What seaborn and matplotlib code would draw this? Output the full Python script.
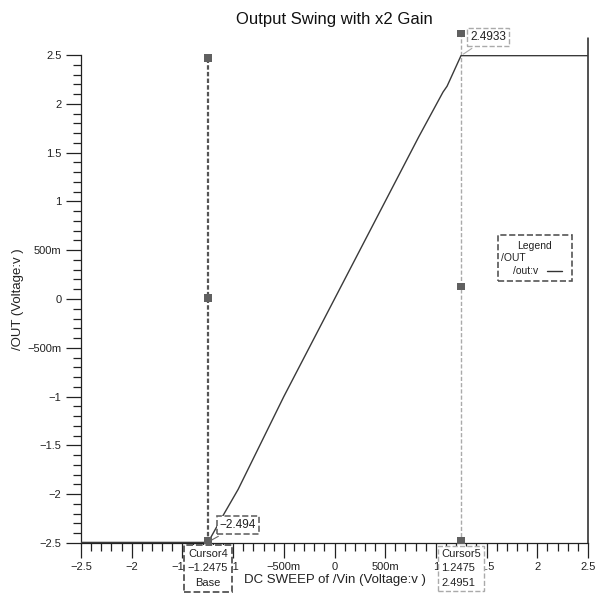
import numpy as np
import pandas as pd
import matplotlib
matplotlib.use("Agg")
import matplotlib.pyplot as plt
import seaborn as sns
from matplotlib.ticker import FixedLocator, MultipleLocator

# ---- data ----
vin = [-2.5, -1.2475, -1.1, -0.95, -0.5, 0.0, 0.5, 0.83, 1.07, 1.11, 1.2475, 2.5]
vout = [-2.494, -2.494, -2.22, -1.95, -1.0, 0.0, 1.0, 1.66, 2.12, 2.18, 2.4933, 2.4933]

cursor4_x = -1.2475
cursor4_marks = [2.47, 0.01, -2.475]
cursor5_x = 1.2475
cursor5_marks = [2.72, 0.13, -2.475]

tick_vals = [-2.5, -2, -1.5, -1, -0.5, 0, 0.5, 1, 1.5, 2, 2.5]
tick_labels = ["\u22122.5", "\u22122", "\u22121.5", "\u22121", "\u2212500m", "0", "500m", "1", "1.5", "2", "2.5"]

title = "Output Swing with x2 Gain"
xlabel = "DC SWEEP of /Vin (Voltage:v )"
ylabel = "/OUT (Voltage:v )"

sns.set_style("ticks")
plt.rcParams['font.family'] = ['Liberation Sans', 'DejaVu Sans']

fig = plt.figure(figsize=(6.03, 5.95), dpi=100)
L, R, B, T = 81 / 603, 588 / 603, (595 - 543) / 595, (595 - 55) / 595
ax = fig.add_axes([L, B, R - L, T - B])

df = pd.DataFrame({"vin": vin, "vout": vout})
sns.lineplot(data=df, x="vin", y="vout", ax=ax, color="#3a3a3a", lw=1.0, zorder=3)

# cursors
ax.plot([cursor4_x, cursor4_x], [-2.5, cursor4_marks[0]], color="#555555", lw=1.6,
        ls=(0, (2, 1)), zorder=2)
ax.plot([cursor5_x, cursor5_x], [-2.5, cursor5_marks[0]], color="#aaaaaa", lw=1.0,
        ls=(0, (3, 1.5)), zorder=2, clip_on=False)
c4 = pd.DataFrame({"x": [cursor4_x] * 3, "y": cursor4_marks})
c5 = pd.DataFrame({"x": [cursor5_x] * 3, "y": cursor5_marks})
for d in (c4, c5):
    sns.scatterplot(data=d, x="x", y="y", ax=ax, marker="s", s=28, color="#606060",
                    edgecolor="none", zorder=4, clip_on=False)

ax.set_xlim(-2.5, 2.5)
ax.set_ylim(-2.5, 2.5)
ax.xaxis.set_major_locator(FixedLocator(tick_vals))
ax.set_xticklabels(tick_labels)
ax.yaxis.set_major_locator(FixedLocator(tick_vals))
ax.set_yticklabels(tick_labels)
ax.xaxis.set_minor_locator(MultipleLocator(0.1))
ax.yaxis.set_minor_locator(MultipleLocator(0.1))
ax.tick_params(axis="both", which="major", length=11, width=0.9, color="#222222",
               labelsize=8, labelcolor="#222222", pad=3)
ax.tick_params(axis="both", which="minor", length=6, width=0.9, color="#222222")

for s in ("top", "right"):
    ax.spines[s].set_visible(False)
for s in ("left", "bottom"):
    ax.spines[s].set_color("#222222")
    ax.spines[s].set_linewidth(0.9)
ax.plot([1, 1], [0, 1.035], transform=ax.transAxes, color="#222222", lw=1.1, clip_on=False)

ax.set_title(title, fontsize=12, color="#111111", pad=22)
ax.set_xlabel(xlabel, fontsize=9.5, color="#222222")
ax.xaxis.set_label_coords(0.5, -0.064)
ax.set_ylabel(ylabel, fontsize=9.5, color="#222222")
ax.yaxis.set_label_coords(-0.112, 0.5)

# annotations
box_kw = dict(boxstyle="square,pad=0.25", fc="white", ec="#666666", ls="--", lw=1.2)
ax.annotate("\u22122.494", xy=(cursor4_x, -2.49), xytext=(-1.13, -2.32), fontsize=8.5,
            color="#222222", va="center", ha="left", bbox=box_kw,
            arrowprops=dict(arrowstyle="-", color="#666666", lw=0.8), zorder=5)
box_kw2 = dict(boxstyle="square,pad=0.25", fc="white", ec="#aaaaaa", ls="--", lw=1.0)
ax.annotate("2.4933", xy=(cursor5_x, 2.4933), xytext=(1.34, 2.68), fontsize=8.5,
            color="#222222", va="center", ha="left", bbox=box_kw2,
            arrowprops=dict(arrowstyle="-", color="#aaaaaa", lw=0.8),
            annotation_clip=False, zorder=5)

# cursor boxes below axis
ax.text(cursor4_x, -0.012, "Cursor4\n\u22121.2475\nBase", transform=ax.get_xaxis_transform(),
        ha="center", va="top", fontsize=8, color="#222222", linespacing=1.55,
        bbox=dict(boxstyle="square,pad=0.35", fc="white", ec="#555555", ls="--", lw=1.3),
        clip_on=False, zorder=6)
ax.text(cursor5_x, -0.012, "Cursor5\n1.2475\n2.4951", transform=ax.get_xaxis_transform(),
        ha="center", va="top", fontsize=8, color="#222222", linespacing=1.55,
        multialignment="left",
        bbox=dict(boxstyle="square,pad=0.3", fc="white", ec="#aaaaaa", ls="--", lw=1.0),
        clip_on=False, zorder=6)

# legend box
lx0, lx1 = (498 - 81) / 507, (572 - 81) / 507
ly0, ly1 = (543 - 281) / 488, (543 - 235) / 488
ax.add_patch(plt.Rectangle((lx0, ly0), lx1 - lx0, ly1 - ly0, transform=ax.transAxes,
                           fc="white", ec="#555555", ls="--", lw=1.2, zorder=6))
ax.text((lx0 + lx1) / 2, ly1 - 0.022, "Legend", transform=ax.transAxes, ha="center",
        va="center", fontsize=7.5, color="#222222", zorder=7)
ax.text(lx0 + 0.005, ly1 - 0.048, "/OUT", transform=ax.transAxes, ha="left",
        va="center", fontsize=7.5, color="#222222", zorder=7)
ax.text(lx0 + 0.03, ly1 - 0.074, "/out:v", transform=ax.transAxes, ha="left",
        va="center", fontsize=7.5, color="#222222", zorder=7)
ax.plot([lx1 - 0.05, lx1 - 0.02], [ly1 - 0.074, ly1 - 0.074], transform=ax.transAxes,
        color="#333333", lw=1.0, zorder=7)

fig.savefig("out.png", dpi=100)
